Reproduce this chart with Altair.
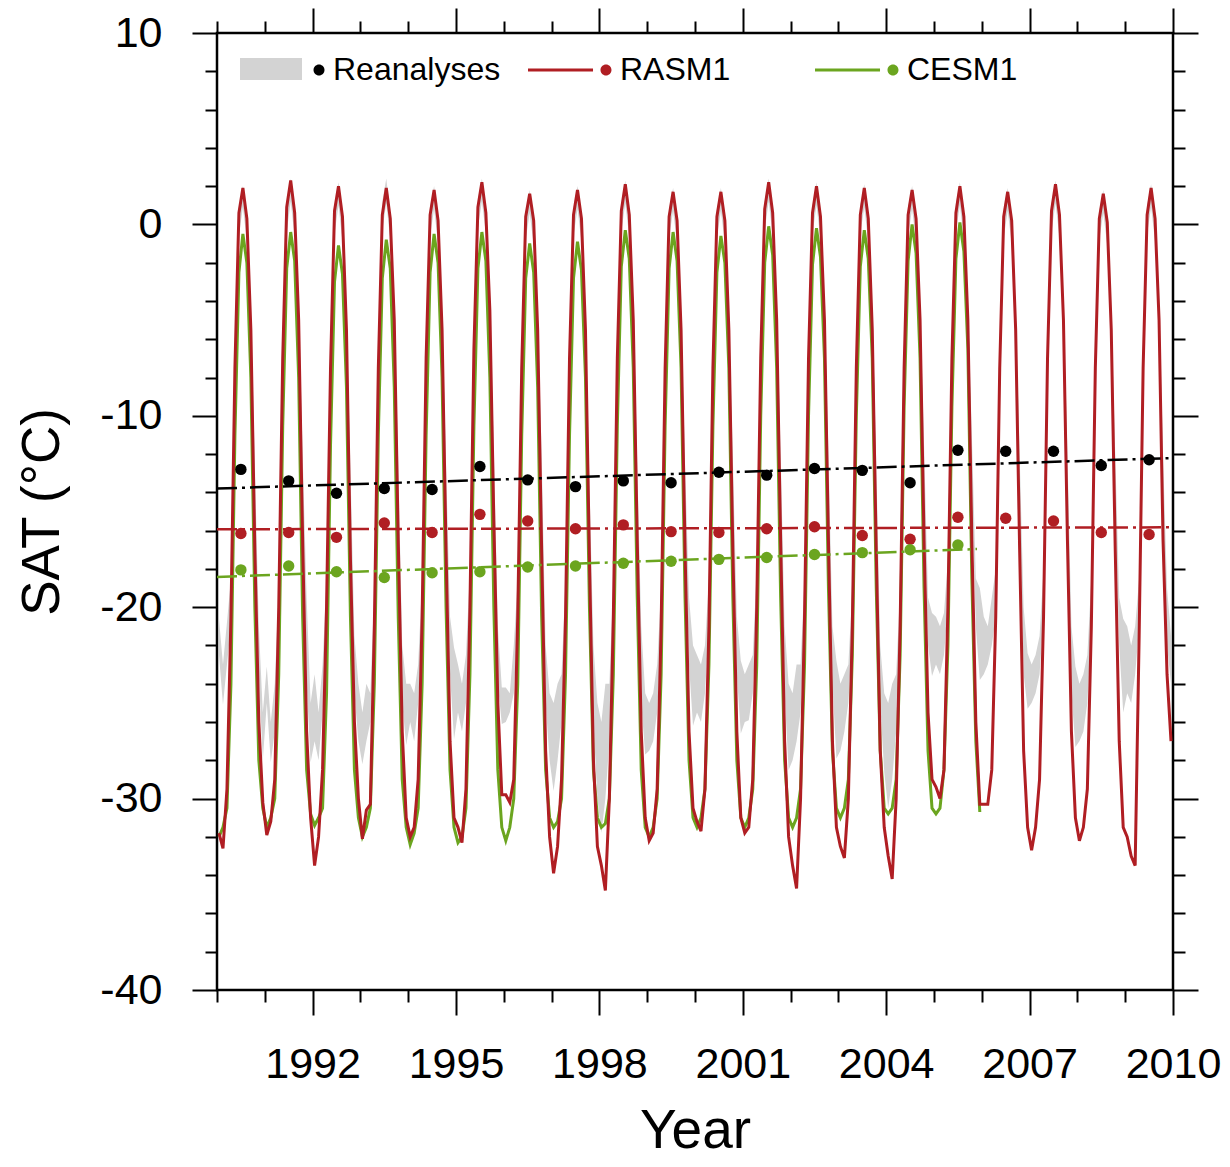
import altair as alt
import pandas as pd

FONT = "Liberation Sans"
GREY = "#d3d3d3"
RED = "#b01e23"
GREEN = "#6ba51f"

YEARS = list(range(1990, 2010))
CESM_YEARS = list(range(1990, 2006))

# Monthly RASM1 SAT (Jan..Dec) per year, 1990-2009
rasm_by_year = [
    [-31.8, -32.6, -29.5, -20.5, -7.5, 0.6, 1.9, 0.3, -5.5, -17.0, -26.0, -30.2],
    [-31.9, -31.2, -29.0, -20.0, -7.0, 0.9, 2.3, 0.6, -5.0, -16.5, -26.5, -31.0],
    [-33.5, -32.0, -28.5, -20.0, -7.5, 0.7, 2.0, 0.4, -5.5, -17.5, -26.0, -30.0],
    [-32.1, -30.6, -30.3, -21.0, -7.5, 0.5, 1.9, 0.3, -5.0, -16.5, -26.5, -31.0],
    [-32.0, -31.5, -29.0, -20.5, -7.0, 0.5, 1.8, 0.2, -5.5, -17.0, -27.0, -31.0],
    [-31.5, -32.3, -29.5, -20.0, -6.5, 0.9, 2.2, 0.6, -4.5, -15.5, -25.0, -29.8],
    [-29.8, -30.2, -29.0, -20.5, -7.5, 0.4, 1.6, 0.2, -5.5, -17.0, -27.5, -32.0],
    [-33.9, -32.5, -29.0, -20.5, -7.0, 0.5, 1.8, 0.3, -5.5, -17.5, -28.0, -32.5],
    [-33.5, -34.8, -30.0, -20.5, -7.0, 0.7, 2.1, 0.5, -5.0, -16.5, -26.5, -31.0],
    [-32.2, -31.8, -29.5, -21.0, -7.5, 0.4, 1.7, 0.2, -5.5, -17.0, -26.5, -30.5],
    [-31.2, -31.7, -29.5, -21.0, -7.5, 0.4, 1.7, 0.2, -5.5, -17.0, -26.5, -31.0],
    [-31.8, -31.5, -29.0, -20.0, -7.0, 0.8, 2.2, 0.6, -5.0, -16.5, -27.0, -32.0],
    [-33.5, -34.7, -30.0, -20.5, -7.0, 0.6, 2.0, 0.4, -5.0, -16.5, -27.0, -31.5],
    [-32.5, -33.1, -30.0, -21.0, -7.5, 0.5, 1.9, 0.3, -5.5, -17.0, -27.5, -31.5],
    [-33.0, -34.2, -30.0, -21.0, -7.5, 0.5, 1.8, 0.3, -5.0, -16.5, -25.5, -29.0],
    [-29.4, -30.0, -28.5, -20.0, -7.0, 0.6, 2.0, 0.4, -5.0, -16.5, -26.0, -30.3],
    [-30.3, -30.3, -28.5, -20.5, -7.5, 0.4, 1.7, 0.2, -5.5, -17.0, -27.5, -31.5],
    [-32.7, -31.5, -29.0, -20.5, -7.0, 0.7, 2.1, 0.5, -5.0, -16.5, -26.5, -31.0],
    [-32.2, -31.5, -29.5, -21.0, -7.5, 0.3, 1.6, 0.1, -5.5, -17.0, -27.0, -31.5],
    [-32.0, -33.0, -33.5, -21.5, -7.5, 0.5, 1.9, 0.3, -5.0, -16.5, -23.5, -27.0],
]

# Monthly CESM1 SAT (Jan..Dec) per year, 1990-2005
cesm_by_year = [
    [-32.0, -31.5, -30.5, -24.0, -11.0, -2.5, -0.5, -2.0, -8.0, -20.0, -28.0, -30.5],
    [-31.5, -31.0, -30.0, -23.5, -10.5, -2.3, -0.4, -1.9, -8.0, -20.5, -28.5, -30.8],
    [-31.4, -31.0, -30.5, -24.5, -11.5, -3.0, -1.1, -2.6, -8.5, -20.5, -28.5, -31.0],
    [-32.0, -31.5, -30.5, -24.0, -11.0, -2.8, -0.8, -2.3, -8.5, -20.5, -29.0, -31.5],
    [-32.4, -31.8, -30.5, -24.0, -11.0, -2.5, -0.5, -2.0, -8.0, -20.0, -28.5, -31.5],
    [-32.3, -32.0, -30.5, -23.5, -10.5, -2.3, -0.4, -1.9, -8.0, -20.0, -28.5, -31.5],
    [-32.2, -31.5, -30.0, -24.0, -11.0, -2.8, -1.0, -2.5, -8.5, -20.5, -28.5, -31.0],
    [-31.5, -31.2, -30.0, -23.5, -11.0, -2.8, -0.9, -2.4, -8.0, -20.0, -28.5, -31.0],
    [-31.5, -31.3, -30.0, -23.5, -10.5, -2.2, -0.3, -1.8, -7.5, -19.5, -28.5, -31.5],
    [-32.0, -31.5, -30.0, -23.5, -10.5, -2.3, -0.4, -1.9, -7.5, -19.5, -28.0, -31.0],
    [-31.5, -31.0, -29.5, -23.0, -10.5, -2.5, -0.6, -2.0, -7.5, -19.5, -28.0, -31.0],
    [-31.5, -31.0, -29.5, -23.0, -10.0, -2.0, -0.1, -1.6, -7.5, -19.5, -28.0, -31.0],
    [-31.5, -31.0, -29.5, -23.0, -10.0, -2.1, -0.2, -1.7, -7.0, -19.0, -27.5, -30.5],
    [-31.0, -30.5, -29.0, -22.5, -10.0, -2.2, -0.3, -1.8, -7.0, -19.0, -27.5, -30.5],
    [-30.8, -30.5, -29.0, -22.5, -9.5, -1.9, 0.0, -1.5, -7.0, -19.0, -27.5, -30.5],
    [-30.8, -30.5, -28.5, -22.0, -9.5, -1.8, 0.1, -1.4, -6.5, -18.5, -27.0, -30.7],
]

# Reanalyses range: monthly lower / upper bound (Jan..Dec), 1990-2009
rea_lo_by_year = [
    [-22.5, -25.1, -23.0, -21.0, -8.5, -0.6, 0.9, -0.9, -6.3, -15.5, -23.5, -28.0],
    [-25.0, -28.1, -26.5, -21.5, -8.8, -0.4, 1.2, -0.7, -6.0, -15.0, -24.0, -28.1],
    [-27.0, -28.0, -25.5, -21.0, -8.5, -0.5, 1.0, -0.9, -6.5, -15.8, -24.5, -27.0],
    [-28.2, -27.0, -26.0, -21.5, -8.5, -0.3, 1.1, -0.8, -6.2, -15.5, -25.0, -27.2],
    [-26.0, -27.0, -25.0, -21.0, -8.3, -0.6, 0.8, -1.0, -6.4, -15.5, -23.5, -26.9],
    [-25.5, -26.5, -25.0, -20.5, -8.0, -0.2, 1.2, -0.5, -5.8, -14.8, -24.0, -26.1],
    [-26.0, -25.5, -24.5, -21.0, -8.8, -0.8, 0.6, -1.1, -6.5, -15.0, -25.0, -28.0],
    [-29.6, -28.0, -26.0, -21.0, -8.5, -0.6, 0.8, -0.9, -6.3, -16.5, -26.0, -30.0],
    [-31.8, -30.0, -27.0, -21.0, -8.3, -0.4, 1.1, -0.7, -6.0, -15.5, -25.0, -27.7],
    [-27.5, -27.0, -25.5, -21.5, -8.6, -0.7, 0.7, -1.0, -6.5, -15.5, -23.0, -26.2],
    [-25.5, -26.0, -24.5, -21.0, -8.5, -0.7, 0.7, -1.0, -6.4, -15.2, -23.5, -26.6],
    [-26.0, -25.9, -24.5, -20.5, -8.2, -0.3, 1.2, -0.6, -6.0, -15.0, -24.5, -28.5],
    [-28.0, -27.0, -25.5, -21.0, -8.3, -0.5, 1.0, -0.8, -6.0, -15.0, -24.0, -27.9],
    [-27.5, -26.5, -25.0, -21.5, -8.6, -0.5, 0.9, -0.9, -6.3, -15.4, -25.0, -28.6],
    [-30.5, -29.0, -26.5, -21.5, -8.5, -0.6, 0.8, -0.9, -6.0, -14.5, -22.0, -23.6],
    [-23.0, -23.5, -22.5, -20.0, -8.0, -0.4, 1.0, -0.8, -5.8, -14.0, -21.0, -23.8],
    [-23.5, -23.0, -22.0, -20.5, -8.5, -0.7, 0.7, -1.0, -6.4, -15.0, -23.5, -25.3],
    [-25.0, -24.5, -23.5, -20.5, -8.3, -0.4, 1.1, -0.7, -6.0, -15.0, -24.5, -27.3],
    [-27.0, -26.5, -25.0, -21.0, -8.6, -0.8, 0.6, -1.1, -6.5, -15.0, -22.0, -25.5],
    [-24.5, -25.0, -23.5, -21.0, -8.5, -0.5, 0.9, -0.9, -6.0, -15.0, -22.0, -24.0],
]
rea_hi_by_year = [
    [-20.6, -23.0, -20.8, -18.5, -6.0, 0.9, 2.0, 0.5, -4.3, -12.5, -21.0, -25.5],
    [-23.1, -26.0, -24.0, -19.0, -6.3, 1.1, 2.4, 0.7, -4.0, -12.0, -19.5, -25.0],
    [-23.5, -25.5, -23.0, -18.5, -6.0, 1.0, 2.2, 0.5, -4.5, -12.8, -21.5, -24.0],
    [-25.5, -24.0, -24.5, -19.0, -6.0, 1.2, 2.4, 0.6, -4.2, -12.5, -22.0, -24.0],
    [-24.0, -24.5, -23.0, -18.5, -5.8, 0.9, 2.0, 0.4, -4.4, -12.5, -20.5, -22.1],
    [-23.0, -24.0, -22.5, -18.0, -5.5, 1.3, 2.4, 0.9, -3.8, -11.8, -21.0, -24.2],
    [-24.2, -24.5, -22.0, -18.5, -6.3, 0.7, 1.8, 0.3, -4.5, -12.0, -22.0, -24.5],
    [-25.0, -24.0, -23.5, -18.5, -6.0, 0.9, 2.0, 0.5, -4.3, -13.5, -22.0, -25.0],
    [-26.0, -24.0, -24.0, -18.5, -5.8, 1.1, 2.3, 0.7, -4.0, -12.5, -21.0, -24.5],
    [-25.0, -24.5, -23.0, -19.0, -6.1, 0.8, 1.9, 0.4, -4.5, -12.5, -19.5, -22.0],
    [-22.5, -23.0, -22.0, -18.5, -6.0, 0.8, 1.9, 0.4, -4.4, -12.2, -20.5, -22.8],
    [-23.5, -23.0, -22.5, -18.0, -5.7, 1.2, 2.4, 0.8, -4.0, -12.0, -21.0, -24.0],
    [-24.5, -23.0, -23.0, -18.5, -5.8, 1.0, 2.2, 0.6, -4.0, -12.0, -21.0, -22.8],
    [-24.0, -23.5, -23.0, -19.0, -6.1, 1.0, 2.1, 0.5, -4.3, -12.4, -22.0, -24.5],
    [-25.0, -24.0, -23.5, -19.0, -6.0, 0.9, 2.0, 0.5, -4.0, -11.5, -19.5, -20.3],
    [-20.5, -21.0, -20.3, -17.5, -5.5, 1.1, 2.2, 0.6, -3.8, -11.0, -18.5, -19.0],
    [-20.5, -21.0, -19.5, -18.0, -6.0, 0.8, 1.9, 0.4, -4.4, -12.0, -20.0, -22.4],
    [-23.0, -22.5, -21.5, -18.0, -5.8, 1.1, 2.3, 0.7, -4.0, -12.0, -21.0, -23.1],
    [-24.0, -23.5, -22.5, -18.5, -6.1, 0.7, 1.8, 0.3, -4.5, -12.0, -19.5, -20.6],
    [-21.0, -22.0, -21.0, -18.5, -6.0, 1.0, 2.1, 0.5, -4.0, -12.0, -19.0, -21.5],
]

# Annual means (dots)
rea_annual = [-12.8, -13.4, -14.05, -13.8, -13.85, -12.65, -13.35, -13.7, -13.4, -13.5,
              -12.95, -13.1, -12.75, -12.85, -13.5, -11.8, -11.85, -11.85, -12.6, -12.3]
rasm_annual = [-16.15, -16.1, -16.35, -15.6, -16.1, -15.15, -15.5, -15.9, -15.7, -16.05,
               -16.1, -15.9, -15.8, -16.25, -16.45, -15.3, -15.35, -15.5, -16.1, -16.2]
cesm_annual = [-18.05, -17.85, -18.15, -18.45, -18.2, -18.15, -17.9, -17.85, -17.7, -17.6,
               -17.5, -17.4, -17.25, -17.15, -17.0, -16.75]

SERIES = ["Reanalyses", "RASM1", "CESM1"]
SERIES_COLORS = ["black", RED, GREEN]
x_ticks = list(range(1990, 2011))
y_ticks = list(range(-40, 11, 2))

# ---- tables ----
monthly = pd.DataFrame({
    "t": [y + (m + 0.5) / 12 for y in YEARS for m in range(12)],
    "rasm": [v for row in rasm_by_year for v in row],
    "lo": [v for row in rea_lo_by_year for v in row],
    "hi": [v for row in rea_hi_by_year for v in row],
    "band": "Reanalyses range",
})
cesm_df = pd.DataFrame({
    "t": [y + (m + 0.5) / 12 for y in CESM_YEARS for m in range(12)],
    "cesm": [v for row in cesm_by_year for v in row],
})
annual = pd.concat([
    pd.DataFrame({"x": [y + 0.5 for y in YEARS], "v": rea_annual, "series": "Reanalyses", "col": "black"}),
    pd.DataFrame({"x": [y + 0.5 for y in YEARS], "v": rasm_annual, "series": "RASM1", "col": RED}),
    pd.DataFrame({"x": [y + 0.5 for y in CESM_YEARS], "v": cesm_annual, "series": "CESM1", "col": GREEN}),
], ignore_index=True)
annual_br = annual[annual["series"] != "CESM1"]
annual_g = annual[annual["series"] == "CESM1"]

xscale = alt.Scale(domain=[1990, 2010], nice=False, zero=False)
yscale = alt.Scale(domain=[-40, 10], nice=False, zero=False)

tick_x = {"condition": {"test": "datum.value % 3 == 0", "value": 25}, "value": 12}
tick_y = {"condition": {"test": "datum.value % 10 == 0", "value": 25}, "value": 12}

x_bottom = alt.Axis(orient="bottom", values=x_ticks, format="d",
                    labelExpr="datum.value % 3 == 0 ? datum.label : ''",
                    tickSize=tick_x, labelPadding=28, labelFontSize=43, labelFlush=False,
                    labelOverlap=False, title="Year", titleFontSize=55, titleFontWeight="normal",
                    titleX=478, titleY=157, titleBaseline="alphabetic", titleAlign="center")
y_left = alt.Axis(orient="left", values=y_ticks,
                  labelExpr="datum.value % 10 == 0 ? '' + datum.value : ''",
                  tickSize=tick_y, labelPadding=30, labelFontSize=43, labelOverlap=False,
                  title="SAT (°C)", titleFontSize=53, titleFontWeight="normal",
                  titleX=-159, titleY=478.5, titleBaseline="alphabetic", titleAlign="center")
x_top = alt.Axis(orient="top", values=x_ticks, labels=False, tickSize=tick_x, title=None)
y_right = alt.Axis(orient="right", values=y_ticks, labels=False, tickSize=tick_y, title=None)

band_path = "M -1 -0.355 L 1 -0.355 L 1 0.355 L -1 0.355 Z"
dot_path = "M -1 0 M 0.726 0 A 0.131 0.131 0 1 0 0.988 0 A 0.131 0.131 0 1 0 0.726 0 Z"
line_dot_path = ("M -1 -0.036 L 0.548 -0.036 L 0.548 0.036 L -1 0.036 Z "
                 "M 0.726 0 A 0.131 0.131 0 1 0 0.988 0 A 0.131 0.131 0 1 0 0.726 0 Z")

band = alt.Chart(monthly).mark_area(opacity=1).encode(
    x=alt.X("t:Q", scale=xscale, axis=x_bottom),
    y=alt.Y("lo:Q", scale=yscale, axis=y_left),
    y2="hi:Q",
    fill=alt.Fill("band:N", scale=alt.Scale(domain=["Reanalyses range"], range=[GREY]),
                  legend=alt.Legend(orient="none", legendX=23, legendY=5, title=None,
                                    symbolType=band_path, symbolSize=3844, symbolStrokeWidth=0,
                                    symbolOpacity=1, labelExpr="''", padding=0)),
)

cesm = alt.Chart(cesm_df).mark_line(color=GREEN, strokeWidth=3).encode(
    x=alt.X("t:Q", scale=xscale, axis=x_top),
    y=alt.Y("cesm:Q", scale=yscale, axis=y_right),
)

rasm = alt.Chart(monthly).mark_line(color=RED, strokeWidth=3).encode(
    x=alt.X("t:Q", scale=xscale, axis=None),
    y=alt.Y("rasm:Q", scale=yscale, axis=None),
)

trend_br = alt.Chart(annual_br).transform_regression(
    "x", "v", groupby=["series", "col"], extent=[1990, 2010]
).mark_line(strokeWidth=2.5, strokeDash=[20, 5, 3, 5]).encode(
    x=alt.X("x:Q", scale=xscale, axis=None),
    y=alt.Y("v:Q", scale=yscale, axis=None),
    color=alt.Color("col:N", scale=None),
)

trend_g = alt.Chart(annual_g).transform_regression(
    "x", "v", groupby=["series", "col"], extent=[1990, 2005.9]
).mark_line(strokeWidth=2.5, strokeDash=[20, 5, 3, 5]).encode(
    x=alt.X("x:Q", scale=xscale, axis=None),
    y=alt.Y("v:Q", scale=yscale, axis=None),
    color=alt.Color("col:N", scale=None),
)

dots = alt.Chart(annual).mark_circle(size=130, opacity=1).encode(
    x=alt.X("x:Q", scale=xscale, axis=None),
    y=alt.Y("v:Q", scale=yscale, axis=None),
    color=alt.Color("col:N", scale=None),
)

main_legend = alt.Legend(orient="none", legendX=24, legendY=-5, direction="horizontal",
                         title=None, labelFontSize=32, labelOffset=8, labelLimit=500,
                         symbolSize=7056, symbolStrokeWidth=0, symbolOpacity=1,
                         columnPadding=27, gridAlign="all", padding=0)

legend_layer = alt.Chart(annual).mark_point(filled=True, opacity=0, size=10).encode(
    x=alt.X("x:Q", scale=xscale, axis=None),
    y=alt.Y("v:Q", scale=yscale, axis=None),
    color=alt.Color("series:N", scale=alt.Scale(domain=SERIES, range=SERIES_COLORS),
                    legend=main_legend),
    shape=alt.Shape("series:N", scale=alt.Scale(domain=SERIES,
                                                range=[dot_path, line_dot_path, line_dot_path]),
                    legend=main_legend),
)

chart = alt.layer(band, cesm, rasm, trend_br, trend_g, dots, legend_layer).resolve_axis(
    x="independent", y="independent"
).properties(
    width=956, height=957,
    autosize=alt.AutoSizeParams(type="none"),
    padding={"left": 209, "top": 25, "right": 49, "bottom": 169},
).configure_view(
    stroke="black", strokeWidth=2.5
).configure_axis(
    domain=False, grid=False, tickColor="black", tickWidth=2,
    labelColor="black", labelFont=FONT, titleFont=FONT, titleColor="black",
).configure_legend(
    labelFont=FONT, labelColor="black"
)

chart.save("out.html", embed_options={"renderer": "svg", "actions": False})
